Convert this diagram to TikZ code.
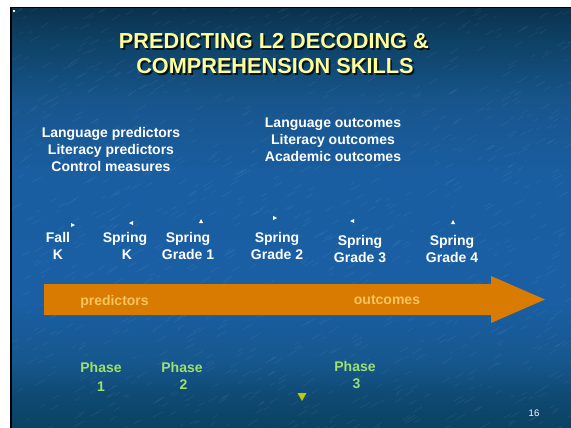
\documentclass[tikz,border=0pt]{standalone}
\usepackage{fontspec}
\setmainfont{Liberation Sans}
% text with a dark drop shadow below-right of it
\newcommand\dropshadowed[1]{\makebox[0pt][l]{\hspace{1.8pt}\raisebox{-1.8pt}{\color{shadowdark}#1}}#1}
\begin{document}
\definecolor{bgA}{HTML}{0A3250}
\definecolor{bgB}{HTML}{0E4266}
\definecolor{bgC}{HTML}{17558C}
\definecolor{bgD}{HTML}{1A5EA2}
\definecolor{bgE}{HTML}{1A5FA3}
\definecolor{bgF}{HTML}{16578E}
\definecolor{bgG}{HTML}{0F4A74}
\definecolor{bgH}{HTML}{0B4262}
\definecolor{shadowdark}{HTML}{06121C}
\definecolor{titleyellow}{HTML}{FFFF99}
\definecolor{arroworange}{HTML}{D97B00}
\definecolor{arrowtext}{HTML}{F7C45E}
\definecolor{phasegreen}{HTML}{9BE36B}
\definecolor{marker}{HTML}{BCCC00}
\pgfdeclareverticalshading{slidebg}{100bp}{%
  color(0bp)=(bgH); color(25bp)=(bgH); color(29bp)=(bgG); color(33bp)=(bgF);
  color(40bp)=(bgE); color(55bp)=(bgD); color(64bp)=(bgC); color(71bp)=(bgB);
  color(75bp)=(bgA); color(100bp)=(bgA)}
\begin{tikzpicture}[x=1pt,y=-1pt,
  titletext/.style={font=\bfseries\fontsize{21.7}{25}\selectfont, text=titleyellow, inner sep=0pt},
  bodytext/.style={font=\bfseries\fontsize{14}{17}\selectfont, text=white, align=center, inner sep=0pt},
  phasetext/.style={font=\bfseries\fontsize{14}{17}\selectfont, text=phasegreen, align=center, inner sep=0pt},
  arrowlabel/.style={font=\bfseries\fontsize{14}{16}\selectfont, text=arrowtext, inner sep=0pt},
  tick/.style={fill=white}
]
\useasboundingbox (0,0) rectangle (571,428);
% page, frame and slide background
\fill[white] (0,0) rectangle (571,428);
\fill[black] (10,7) rectangle (571,428);
\shade[shading=slidebg] (12,9) rectangle (571,428);
% fine diagonal streak texture
\begin{scope}
  \clip (12,9) rectangle (571,428);
  \pgfmathsetseed{17}
  \foreach \i in {1,...,1100} {
    \pgfmathsetmacro\xx{12+rnd*570}
    \pgfmathsetmacro\yy{9+rnd*430}
    \pgfmathsetmacro\ll{3+rnd*7}
    \draw[white, opacity=0.06, line width=0.8pt, line cap=round]
      (\xx,\yy) -- ++(\ll,-0.6*\ll);
  }
\end{scope}
\fill[white!80!yellow] (13,10) rectangle (15,12);

% title
\node[titletext] (t1) at (273.9,41.9) {\dropshadowed{PREDICTING L2 DECODING \&}};
\node[titletext] (t2) at (274.9,66.9) {\dropshadowed{COMPREHENSION SKILLS}};

% measures
\node[bodytext] (pred) at (111,149) {Language predictors\\Literacy predictors\\Control measures};
\node[bodytext] (outc) at (333,140) {Language outcomes\\Literacy outcomes\\Academic outcomes};

% time points
\node[bodytext] (fallk) at (58,246) {Fall\\K};
\node[bodytext] (springk) at (125,246) {Spring\\\hspace*{4pt}K};
\node[bodytext] (g1) at (188,246) {Spring\\Grade 1};
\node[bodytext] (g2) at (277,246) {Spring\\Grade 2};
\node[bodytext] (g3) at (360,249) {Spring\\Grade 3};
\node[bodytext] (g4) at (452,249) {Spring\\Grade 4};

% small markers above the time points
\fill[tick] (71,223) -- (75,225) -- (71,227) -- cycle;
\fill[tick] (133,221) -- (129,223) -- (133,225) -- cycle;
\fill[tick] (199,223) -- (201,219) -- (203,223) -- cycle;
\fill[tick] (273,216) -- (277,218) -- (273,220) -- cycle;
\fill[tick] (354,219) -- (350,221) -- (354,223) -- cycle;
\fill[tick] (451,224) -- (453,220) -- (455,224) -- cycle;

% time arrow
\fill[arroworange] (44,284) -- (491,284) -- (491,276) -- (545,299.5)
  -- (491,323) -- (491,315) -- (44,315) -- cycle;
\node[arrowlabel] (lp) at (114.5,302) {predictors};
\node[arrowlabel] (lo) at (387,300) {outcomes};

% phases
\node[phasetext] (ph1) at (101,377) {Phase\\[2pt]1};
\node[phasetext] (ph2) at (182,375.5) {Phase\\\hspace*{3pt}2};
\node[phasetext] (ph3) at (355,375.5) {Phase\\\hspace*{3pt}3};
\fill[marker] (297.5,393) -- (306.5,393) -- (302,401) -- cycle;

% slide number
\node[font=\fontsize{9.5}{11}\selectfont, text=white, inner sep=0pt] (num) at (534,413) {16};
\end{tikzpicture}
\end{document}
